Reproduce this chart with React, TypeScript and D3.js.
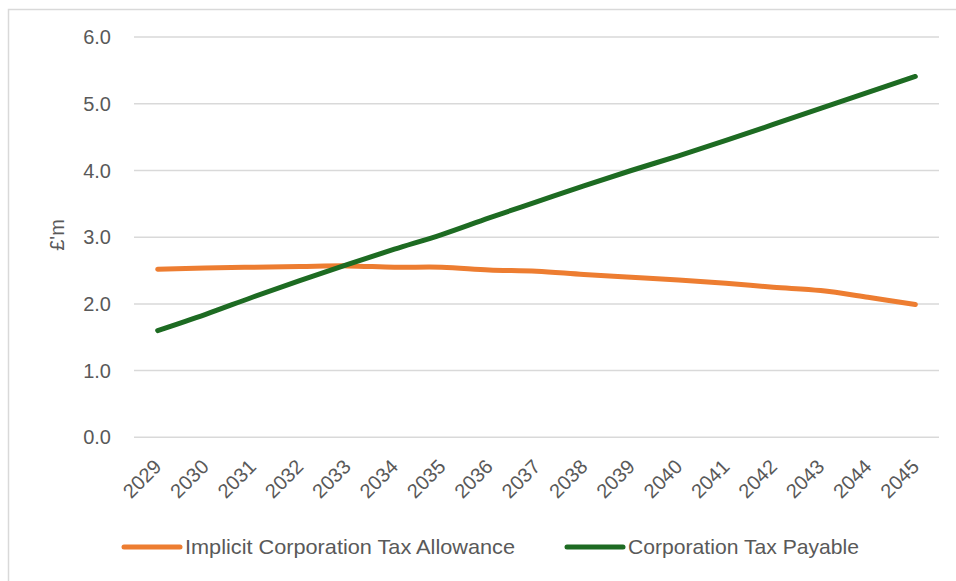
import React from "react";
import * as d3 from "d3";

const years = ["2029","2030","2031","2032","2033","2034","2035","2036","2037","2038","2039","2040","2041","2042","2043","2044","2045"];
const allowance = [2.52, 2.54, 2.55, 2.56, 2.57, 2.55, 2.55, 2.51, 2.49, 2.44, 2.40, 2.36, 2.31, 2.25, 2.20, 2.10, 1.99];
const payable = [1.60, 1.84, 2.10, 2.35, 2.59, 2.82, 3.04, 3.29, 3.53, 3.77, 4.00, 4.22, 4.45, 4.69, 4.93, 5.17, 5.41];
const yTicks = [0, 1, 2, 3, 4, 5, 6];
const seriesNames = ["Implicit Corporation Tax Allowance", "Corporation Tax Payable"];
const colors = ["#ED7D31", "#1D6B22"];

const W = 956, H = 581;
const font = "'Liberation Sans', Arial, sans-serif";

export default function App() {
  const x = d3.scalePoint<string>().domain(years).range([134, 939]).padding(0.5);
  const y = d3.scaleLinear().domain([0, 6]).range([437.3, 37.1]);
  const line = d3.line<number>()
    .x((_, i) => x(years[i]) as number)
    .y((d) => y(d))
    .curve(d3.curveCatmullRom.alpha(0.5));
  const series = [allowance, payable];
  const legendX = [124, 567];
  const legendLen = [330, 231];
  return (
    <svg width={W} height={H} style={{ position: "absolute", left: 0, top: 0, background: "#fff" }}>
      <rect x={0} y={0} width={W} height={H} fill="#fff" />
      <rect x={8.5} y={9.5} width={W + 10} height={H + 10} fill="none" stroke="#d9d9d9" strokeWidth={1.5} />
      {yTicks.map((t) => (
        <g key={t}>
          <line x1={134} x2={939} y1={y(t)} y2={y(t)} stroke="#d9d9d9" strokeWidth={1.5} />
          <text x={111} y={y(t) + 7} textAnchor="end" fontFamily={font} fontSize={20} fill="#595959">
            {t.toFixed(1)}
          </text>
        </g>
      ))}
      <text
        transform={`translate(64,235) rotate(-90)`}
        textAnchor="middle"
        fontFamily={font}
        fontSize={20}
        fill="#595959"
      >
        £'m
      </text>
      {years.map((yr) => (
        <text
          key={yr}
          transform={`translate(${(x(yr) as number) + 5},468) rotate(-45)`}
          textAnchor="end"
          fontFamily={font}
          fontSize={20}
          fill="#595959"
        >
          {yr}
        </text>
      ))}
      {series.map((s, i) => (
        <path key={i} d={line(s) || ""} fill="none" stroke={colors[i]} strokeWidth={5} strokeLinecap="round" strokeLinejoin="round" />
      ))}
      {seriesNames.map((n, i) => {
        const lx = legendX[i];
        return (
          <g key={n}>
            <line x1={lx} x2={lx + 56} y1={547} y2={547} stroke={colors[i]} strokeWidth={5} strokeLinecap="round" />
            <text x={lx + 61} y={554} fontFamily={font} fontSize={21} fill="#595959" textLength={legendLen[i]} lengthAdjust="spacingAndGlyphs">
              {n}
            </text>
          </g>
        );
      })}
    </svg>
  );
}
